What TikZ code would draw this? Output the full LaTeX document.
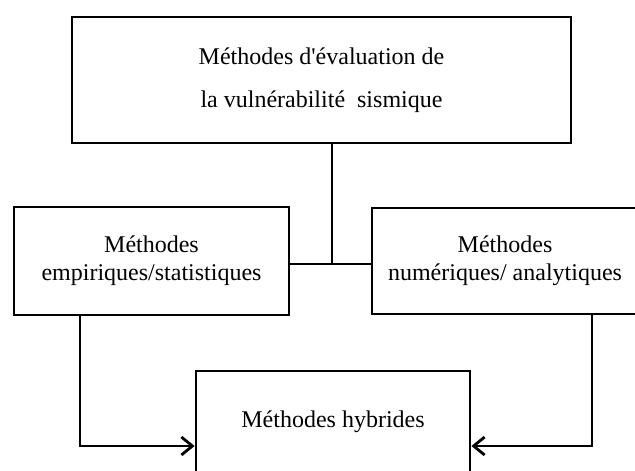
\documentclass[tikz,border=0pt]{standalone}
\usepackage{fontspec}
\setmainfont{Liberation Serif}
\usepackage{tikz}
\usetikzlibrary{arrows.meta,positioning,calc}

\begin{document}
\begin{tikzpicture}[x=0.5pt,y=-0.5pt,
  meth/.style={rectangle,draw=black,line width=1.4pt,inner sep=0pt,align=center,
               font=\fontsize{12}{14}\selectfont},
  link/.style={line width=1.4pt},
  feed/.style={-{Straight Barb[length=5.5pt,width=9pt,line width=1.4pt]},line width=1.4pt}
]
  \useasboundingbox (0,0) rectangle (635,470);
  \node[meth,minimum width=249.5pt,minimum height=63pt,
        font=\fontsize{12}{21.5}\selectfont](eval) at (321.5,80)
        {Méthodes d\textquotesingle évaluation de\\la vulnérabilité\ \ sismique};
  \node[meth,minimum width=137.5pt,minimum height=54pt](emp) at (151.5,261)
        {Méthodes\\empiriques/statistiques};
  \node[meth,minimum width=133pt,minimum height=53pt](num) at (505,261)
        {Méthodes\\numériques/ analytiques};
  \node[meth,minimum width=137pt,minimum height=51pt](hyb) at (333,422)
        {Méthodes hybrides};

  \coordinate (j) at (332,264);
  \coordinate (la) at (80,446);
  \coordinate (ra) at (592,446);

  \draw[link](eval.south -| j)--(j);
  \draw[link](emp.east |- j)--(num.west |- j);
  \draw[feed](emp.south -| la)|-(hyb.west |- la);
  \draw[feed](num.south -| ra)|-(hyb.east |- ra);
\end{tikzpicture}
\end{document}
